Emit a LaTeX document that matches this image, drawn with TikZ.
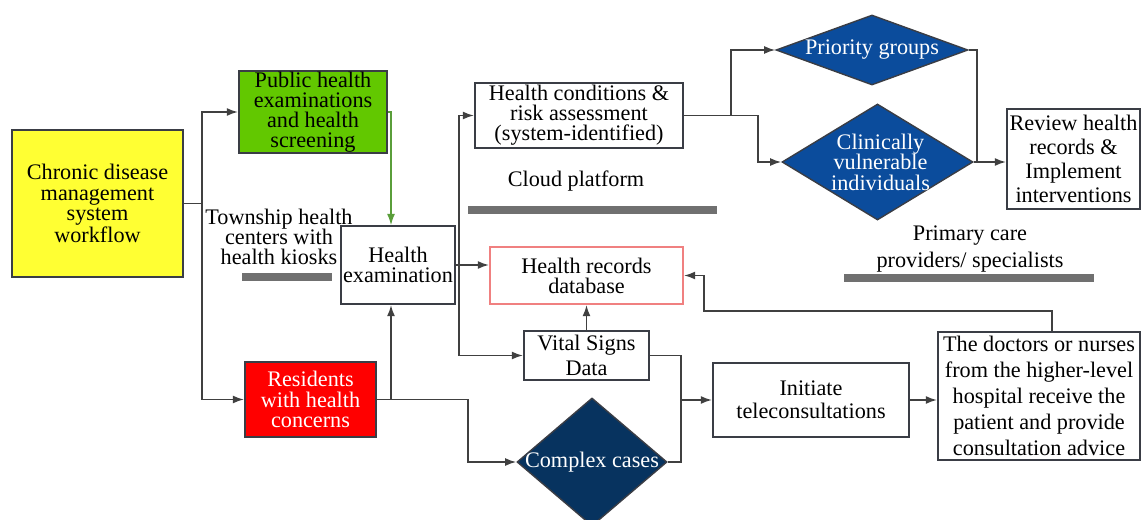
\documentclass[tikz,border=0pt]{standalone}
\usepackage{fontspec}
\setmainfont{Liberation Serif}
\usetikzlibrary{shapes.geometric,arrows.meta}
\definecolor{boxline}{HTML}{3A3D45}
\definecolor{wireline}{HTML}{404040}
\definecolor{barcol}{HTML}{707070}
\definecolor{sysyellow}{HTML}{FFFF33}
\definecolor{screengreen}{HTML}{62C800}
\definecolor{linkgreen}{HTML}{5A9E3A}
\definecolor{alertred}{HTML}{FF0000}
\definecolor{grpblue}{HTML}{0B4C9C}
\definecolor{casenavy}{HTML}{07335F}
\definecolor{dbpink}{HTML}{F08080}
\newcommand{\px}{0.025cm}
\newcommand{\txt}[1]{\fontsize{15.8}{#1}\selectfont}

\begin{document}
\begin{tikzpicture}[x=\px,y=-\px,>={Latex[length=0.28cm,width=0.2cm]},
  box/.style={draw=boxline,line width=1.4pt,align=center,inner sep=0pt},
  sz/.style 2 args={minimum width=#1*\px,minimum height=#2*\px},
  choice/.style={diamond,draw=boxline,line width=1pt,inner sep=0pt},
  wire/.style={wireline,line width=1.2pt},
  bar/.style={barcol,line width=5pt}]
\clip (0,0) rectangle (1141,519);

\node[box,fill=sysyellow,sz={171}{147},font=\txt{14.4}] (chronic) at (97.5,203.5) {Chronic disease\\management\\system\\workflow};
\node[box,fill=screengreen,sz={148}{82},font=\txt{14.2}] (public) at (313,112) {Public health\\examinations\\and health\\screening};
\node[align=center,font=\txt{14.4}] (township) at (279,237) {Township health\\centers with\\health kiosks};
\draw[bar] (242,277) -- (332,277);
\node[box,fill=white,sz={114}{78},font=\txt{14.6}] (exam) at (398,265) {Health\\examination};
\node[box,fill=alertred,text=white,sz={131}{75},font=\txt{14.8}] (residents) at (310.5,399.5) {Residents\\with health\\concerns};

\node[box,sz={208}{65},font=\txt{14.2}] (assess) at (579,115.5) {Health conditions \&\\risk assessment\\(system-identified)};
\node[font=\txt{14}] (cloud) at (576,181) {Cloud platform};
\draw[bar] (468,210) -- (717,210);
\node[box,draw=dbpink,sz={193}{57},font=\txt{14.2}] (records) at (586.5,275.5) {Health records\\database};
\node[box,sz={125}{49},font=\txt{17.8}] (vital) at (586.5,355.5) {Vital Signs\\Data};
\node[choice,fill=casenavy,sz={150}{128},label={[text=white,font=\txt{14}]center:Complex cases}] (complex) at (592,462) {};
\node[box,sz={196}{74},font=\txt{16.4}] (initiate) at (811,400) {Initiate\\teleconsultations};
\node[box,sz={202}{128},font=\txt{18.5}] (doctors) at (1039,396) {The doctors or nurses\\from the higher-level\\hospital receive the\\patient and provide\\consultation advice};

\node[choice,fill=grpblue,sz={192}{70},label={[text=white,font=\txt{14}]center:Priority groups}] (priority) at (872,50) {};
\node[choice,fill=grpblue,sz={191}{116},label={[text=white,font=\txt{14.6},align=center,xshift=3*\px]center:{Clinically\\vulnerable\\individuals}}] (vulnerable) at (877.5,162) {};
\node[box,sz={133}{100},font=\txt{17}] (review) at (1073.5,159) {Review health\\records \&\\Implement\\interventions};
\node[align=center,font=\txt{18.5}] (primary) at (970,249) {Primary care\\providers/ specialists};
\draw[bar] (844,278) -- (1094,278);

\coordinate (split) at (202,203.5);
\draw[wire] (chronic.east) -- (split);
\draw[wire,->] (split) |- (public.west);
\draw[wire,->] (split) |- (residents.west);

\draw[linkgreen,line width=0.8pt,->] (public.east) -| ([xshift=-7*\px]exam.north);
\draw[wire,->] (residents.east) -| ([xshift=-7*\px]exam.south);
\draw[wire,->] (residents.east) -- (468,399.5) |- (complex.west);

\coordinate (fork) at ([xshift=3*\px]exam.east);
\draw[wire,->] (exam.east) -- (exam.east -| records.west);
\draw[wire,->] (fork) |- (assess.west);
\draw[wire,->] (fork) |- (vital.west);
\draw[wire,->] (vital.north) -- (records.south);

\coordinate (merge) at (681,400);
\draw[wire] (vital.east) -| (merge);
\draw[wire] (complex.east) -| (merge);
\draw[wire,->] (merge) -- (initiate.west);
\draw[wire,->] (initiate.east) -- (initiate.east -| doctors.west);
\draw[wire,->] ([xshift=13*\px]doctors.north) -- ++(0,-20) -| ([xshift=20*\px]records.east) -- (records.east);

\coordinate (branch) at ([xshift=47*\px]assess.east);
\draw[wire] (assess.east) -- (branch);
\draw[wire,->] (branch) |- (priority.west);
\draw[wire,->] (branch) -- ++(27,0) |- (vulnerable.west);
\coordinate (join) at (977,162);
\draw[wire] (priority.east) -| (join);
\draw[wire,->] (vulnerable.east) -- (vulnerable.east -| review.west);
\end{tikzpicture}
\end{document}
